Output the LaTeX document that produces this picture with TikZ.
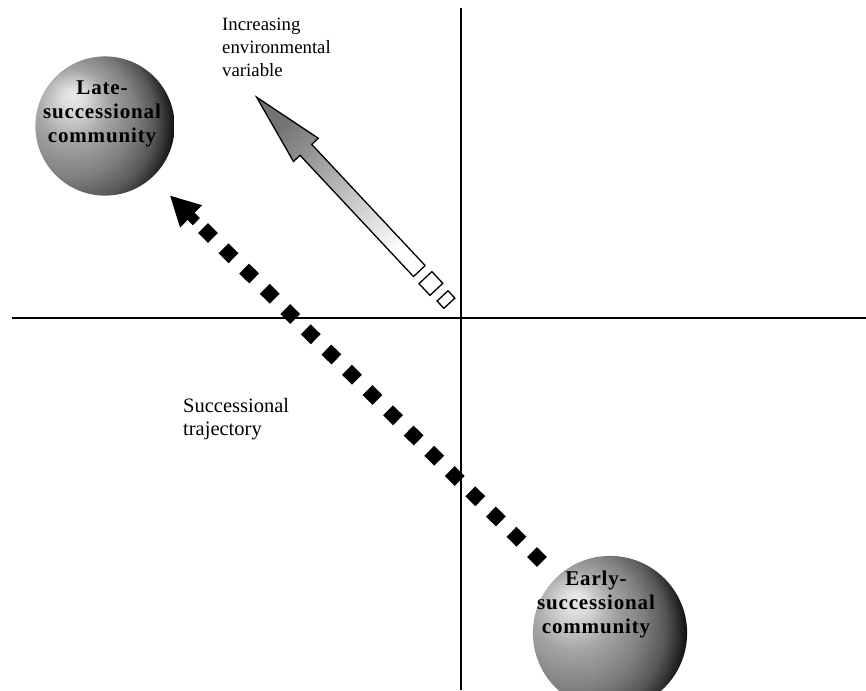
\documentclass[tikz,border=0pt]{standalone}
\usepackage{fontspec}
\setmainfont{Liberation Serif}
\newfontfamily\sphfont{Liberation Serif}[LetterSpace=4]
\usetikzlibrary{arrows.meta,calc}
\pgfdeclareradialshading{sphL}{\pgfpoint{3.5bp}{31.5bp}}{color(0bp)=(black!8); color(10.5bp)=(black!13); color(36.75bp)=(black!36); color(63bp)=(black!50); color(84bp)=(black!66); color(94.5bp)=(black!80); color(105bp)=(black!95)}
\pgfdeclareradialshading{sphE}{\pgfpoint{3.875bp}{34.875bp}}{color(0bp)=(black!8); color(11.6bp)=(black!13); color(40.7bp)=(black!36); color(69.75bp)=(black!50); color(93bp)=(black!66); color(104.6bp)=(black!80); color(116.25bp)=(black!95)}
\begin{document}
\begin{tikzpicture}[x=1pt,y=-1pt,
  axisline/.style={line width=1.6pt, black},
  spherenode/.style={circle, inner sep=0pt, draw=none},
  shadebox/.style={inner sep=0pt, outer sep=0pt},
  sphtxt/.style={font=\sphfont\bfseries\fontsize{21}{23.7}\selectfont, align=center, inner sep=0pt, anchor=north},
  lbl/.style={font=\fontsize{20.5}{23.3}\selectfont, align=left, inner sep=0pt, anchor=north west},
  envlblstyle/.style={font=\fontsize{18.8}{23}\selectfont, align=left, inner sep=0pt, anchor=north west},
  trajline/.style={line width=14pt, dash pattern=on 14pt off 14.86pt, line cap=butt},
  trajhead/.style={line width=10pt, -{Triangle[length=30pt, width=29pt]}},
  bigarrow/.style={draw=black, line width=1.3pt, line join=miter, top color=black!55, middle color=black!25, bottom color=white, shading angle=45},
  tailbox/.style={draw=black, line width=1.3pt, fill=white}
]
\useasboundingbox (0,0) rectangle (866,690);
\fill[white] (0,0) rectangle (866,690);

% axes
\coordinate (xl) at (12,318);
\coordinate (xr) at (866,318);
\coordinate (yt) at (461,8);
\coordinate (yb) at (461,690);
\draw[axisline] (xl) -- (xr);
\draw[axisline] (yt) -- (yb);

% spheres
\node[spherenode, minimum size=140pt] (late) at (105,126) {};
\begin{scope}
  \clip (late.center) circle [radius=69.6pt];
  \node[shadebox] (lateshade) at ($(late.center)+(-35,0)$) {\pgfuseshading{sphL}};
\end{scope}
\node[spherenode, minimum size=155pt] (early) at (610,633) {};
\begin{scope}
  \clip (early.center) circle [radius=77.1pt];
  \node[shadebox] (earlyshade) at ($(early.center)+(-38.75,0)$) {\pgfuseshading{sphE}};
\end{scope}
\node[sphtxt] (latetxt) at (102,81) {Late-\\successional\\community};
\node[sphtxt] (earlytxt) at (596,571) {Early-\\successional\\community};

% successional trajectory
\coordinate (trajS) at (542.0,561.9);
\coordinate (trajE) at (203.0,228.1);
\coordinate (stub) at (196.4,221.6);
\coordinate (tipc) at (169.7,195.3);
\draw[trajline] (trajS) -- (trajE);
\draw[trajhead] (stub) -- (tipc);

% environmental arrow
\begin{scope}[shift={(256.7,97.3)}, rotate=-46.9]
  \draw[bigarrow] (0,0) coordinate (envtip) -- (72,17) -- (72,8) -- (238,8) -- (238,-8) -- (72,-8) -- (72,-17) -- cycle;
  \draw[tailbox] (247,-8.8) rectangle (263,8.8);
  \draw[tailbox] (272,-7.5) rectangle (282,7.5);
\end{scope}

% labels
\node[envlblstyle] (envlbl) at (222,18) {Increasing\\environmental\\variable};
\node[lbl] (trajlbl) at (183,398) {Successional\\trajectory};
\end{tikzpicture}
\end{document}
